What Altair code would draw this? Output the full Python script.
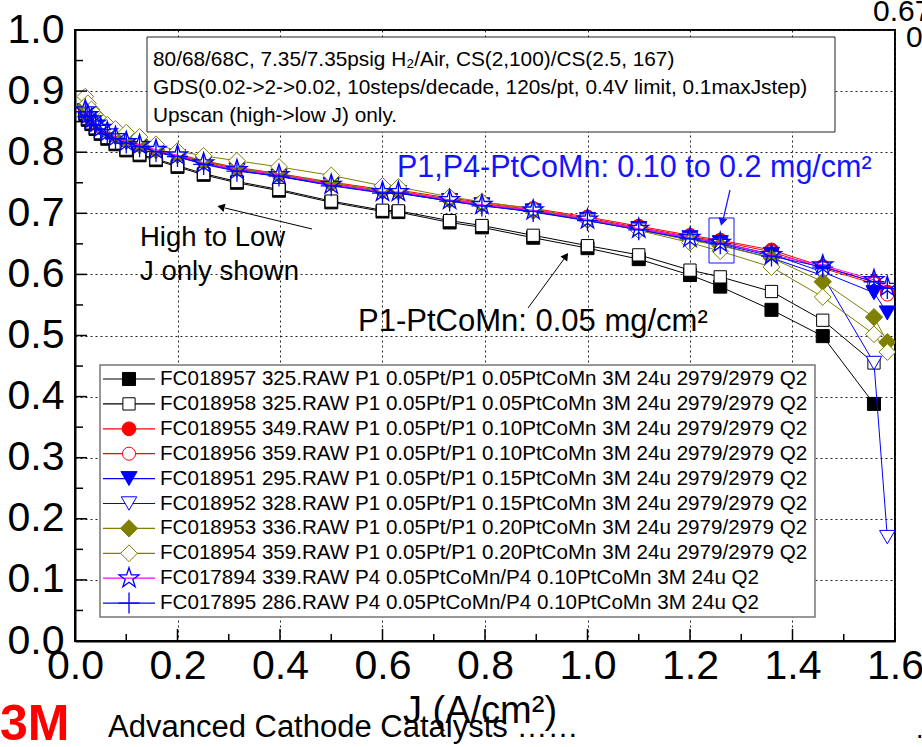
import altair as alt
import pandas as pd

# ---------------- data ----------------
J_VALUES = [0.02, 0.025, 0.032, 0.04, 0.05, 0.063, 0.079, 0.1, 0.126, 0.158, 0.2, 0.251,
            0.316, 0.398, 0.5, 0.6, 0.631, 0.731, 0.794, 0.894, 1.0, 1.1, 1.2, 1.259,
            1.359, 1.459, 1.559, 1.585]

SERIES_NAMES = [
    "FC018957 325.RAW P1 0.05Pt/P1 0.05PtCoMn 3M 24u 2979/2979 Q2",
    "FC018958 325.RAW P1 0.05Pt/P1 0.05PtCoMn 3M 24u 2979/2979 Q2",
    "FC018955 349.RAW P1 0.05Pt/P1 0.10PtCoMn 3M 24u 2979/2979 Q2",
    "FC018956 359.RAW P1 0.05Pt/P1 0.10PtCoMn 3M 24u 2979/2979 Q2",
    "FC018951 295.RAW P1 0.05Pt/P1 0.15PtCoMn 3M 24u 2979/2979 Q2",
    "FC018952 328.RAW P1 0.05Pt/P1 0.15PtCoMn 3M 24u 2979/2979 Q2",
    "FC018953 336.RAW P1 0.05Pt/P1 0.20PtCoMn 3M 24u 2979/2979 Q2",
    "FC018954 359.RAW P1 0.05Pt/P1 0.20PtCoMn 3M 24u 2979/2979 Q2",
    "FC017894 339.RAW P4 0.05PtCoMn/P4 0.10PtCoMn 3M 24u Q2",
    "FC017895 286.RAW P4 0.05PtCoMn/P4 0.10PtCoMn 3M 24u Q2",
]

V_FC018957 = [0.862, 0.853, 0.846, 0.838, 0.830, 0.822, 0.813, 0.803, 0.795, 0.787, 0.776, 0.763,
              0.750, 0.737, 0.718, 0.703, 0.702, 0.685, 0.677, 0.660, 0.643, 0.625, 0.599, 0.580,
              0.542, 0.499, 0.388]
V_FC018958 = [0.864, 0.855, 0.848, 0.840, 0.832, 0.824, 0.815, 0.805, 0.797, 0.789, 0.778, 0.765,
              0.752, 0.739, 0.720, 0.705, 0.704, 0.688, 0.680, 0.664, 0.647, 0.632, 0.607, 0.596,
              0.572, 0.525, 0.455]
V_FC018955 = [0.872, 0.864, 0.857, 0.850, 0.843, 0.836, 0.828, 0.820, 0.813, 0.805, 0.797, 0.786,
              0.775, 0.765, 0.751, 0.739, 0.738, 0.725, 0.718, 0.708, 0.694, 0.679, 0.664, 0.656,
              0.640, 0.613, 0.588, 0.571]
V_FC018956 = [0.870, 0.862, 0.855, 0.848, 0.841, 0.834, 0.826, 0.818, 0.811, 0.803, 0.795, 0.784,
              0.773, 0.763, 0.749, 0.737, 0.736, 0.723, 0.716, 0.706, 0.692, 0.677, 0.662, 0.654,
              0.637, 0.610, 0.585, 0.567]
V_FC018951 = [0.868, 0.860, 0.853, 0.846, 0.839, 0.832, 0.824, 0.816, 0.809, 0.801, 0.793, 0.782,
              0.771, 0.761, 0.747, 0.735, 0.734, 0.721, 0.714, 0.704, 0.690, 0.675, 0.660, 0.652,
              0.633, 0.604, 0.570, 0.537]
V_FC018952 = [0.867, 0.859, 0.852, 0.845, 0.838, 0.831, 0.823, 0.815, 0.808, 0.800, 0.792, 0.781,
              0.770, 0.760, 0.746, 0.734, 0.733, 0.720, 0.713, 0.702, 0.688, 0.673, 0.657, 0.648,
              0.627, 0.598, 0.455, 0.170]
V_FC018953 = [0.875, 0.866, 0.858, 0.851, 0.843, 0.836, 0.828, 0.820, 0.812, 0.804, 0.796, 0.785,
              0.774, 0.764, 0.750, 0.737, 0.736, 0.722, 0.715, 0.704, 0.689, 0.673, 0.656, 0.647,
              0.627, 0.588, 0.530, 0.489]
V_FC018954 = [0.891, 0.880, 0.870, 0.861, 0.852, 0.845, 0.838, 0.832, 0.825, 0.813, 0.802, 0.794,
              0.786, 0.776, 0.762, 0.745, 0.743, 0.727, 0.719, 0.707, 0.690, 0.672, 0.652, 0.638,
              0.612, 0.563, 0.502, 0.473]
V_FC017894 = [0.869, 0.861, 0.854, 0.847, 0.840, 0.833, 0.825, 0.817, 0.812, 0.804, 0.795, 0.782,
              0.771, 0.763, 0.747, 0.735, 0.735, 0.722, 0.714, 0.705, 0.690, 0.675, 0.660, 0.652,
              0.632, 0.615, 0.591, 0.580]
V_FC017895 = [0.866, 0.858, 0.851, 0.844, 0.837, 0.830, 0.822, 0.815, 0.809, 0.801, 0.793, 0.780,
              0.769, 0.761, 0.745, 0.733, 0.733, 0.720, 0.712, 0.703, 0.688, 0.673, 0.658, 0.650,
              0.630, 0.612, 0.588, 0.577]

SERIES_VALUES = [V_FC018957, V_FC018958, V_FC018955, V_FC018956, V_FC018951,
                 V_FC018952, V_FC018953, V_FC018954, V_FC017894, V_FC017895]

X_TICKS = [0.0, 0.2, 0.4, 0.6, 0.8, 1.0, 1.2, 1.4, 1.6]
X_MINOR = [0.1, 0.3, 0.5, 0.7, 0.9, 1.1, 1.3, 1.5]
Y_TICKS = [0.0, 0.1, 0.2, 0.3, 0.4, 0.5, 0.6, 0.7, 0.8, 0.9, 1.0]
Y_MINOR = [0.05, 0.15, 0.25, 0.35, 0.45, 0.55, 0.65, 0.75, 0.85, 0.95]

BOX_LINES = [
    "80/68/68C, 7.35/7.35psig H\u2082/Air, CS(2,100)/CS(2.5, 167)",
    "GDS(0.02->2->0.02, 10steps/decade, 120s/pt, 0.4V limit, 0.1maxJstep)",
    "Upscan (high->low J) only.",
]

# ---------------- styles ----------------
PLUS = "M-1,0L1,0M0,-1L0,1"
STAR = ("M0,-1L0.225,-0.309L0.951,-0.309L0.363,0.118L0.588,0.809L0,0.382"
        "L-0.588,0.809L-0.363,0.118L-0.951,-0.309L-0.225,-0.309Z")
STYLES = [
    dict(line="black", shape="square", fill="black", stroke="black", size=170, sw=1),
    dict(line="black", shape="square", fill="white", stroke="black", size=150, sw=1),
    dict(line="red", shape="circle", fill="red", stroke="red", size=190, sw=1),
    dict(line="red", shape="circle", fill="white", stroke="red", size=170, sw=1),
    dict(line="#0000ff", shape="triangle-down", fill="#0000ff", stroke="#0000ff", size=260, sw=1),
    dict(line="#0000ff", shape="triangle-down", fill="white", stroke="#0000ff", size=240, sw=1),
    dict(line="#808000", shape="diamond", fill="#808000", stroke="#808000", size=300, sw=1),
    dict(line="#808000", shape="diamond", fill="white", stroke="#808000", size=280, sw=1),
    dict(line="#ff00ff", shape=STAR, fill="transparent", stroke="#0000ff", size=440, sw=1.3),
    dict(line="#0000ff", shape=PLUS, fill="transparent", stroke="#0000ff", size=440, sw=1.3),
]

W, H = 820, 611
FONT = "Liberation Sans"

X_ENC = alt.X("J:Q", scale=alt.Scale(domain=[0, 1.6], nice=False, zero=False),
              axis=alt.Axis(values=X_TICKS, format=".1f", title=None, ticks=False,
                            labelFontSize=41, labelFont=FONT, labelColor="black",
                            labelPadding=5, labelFlush=False,
                            domainColor="black", domainWidth=2,
                            grid=True, gridColor="#222222", gridDash=[2, 3], gridWidth=1))
Y_ENC = alt.Y("V:Q", scale=alt.Scale(domain=[0, 1], nice=False, zero=False),
              axis=alt.Axis(values=Y_TICKS, format=".1f", title=None, ticks=False,
                            labelFontSize=41, labelFont=FONT, labelColor="black",
                            labelPadding=11, labelFlush=False,
                            domainColor="black", domainWidth=2,
                            grid=True, gridColor="#222222", gridDash=[2, 3], gridWidth=1))

layers = []

# data layers
for name, vals, st in zip(SERIES_NAMES, SERIES_VALUES, STYLES):
    df = pd.DataFrame({"J": J_VALUES[:len(vals)], "V": vals, "series": name})
    base = alt.Chart(df)
    layers.append(base.mark_line(color=st["line"], strokeWidth=1, clip=True).encode(x=X_ENC, y=Y_ENC))
    layers.append(base.mark_point(shape=st["shape"], filled=True, fill=st["fill"], stroke=st["stroke"],
                                  strokeWidth=st["sw"], size=st["size"], opacity=1, clip=True)
                  .encode(x=X_ENC, y=Y_ENC))

# inward ticks
def xticks(vals, length):
    return alt.Chart(pd.DataFrame({"J": vals})).mark_rule(color="black", strokeWidth=1.5).encode(
        x=X_ENC, y=alt.value(H), y2=alt.value(H - length))

def yticks(vals, length):
    return alt.Chart(pd.DataFrame({"V": vals})).mark_rule(color="black", strokeWidth=1.5).encode(
        y=Y_ENC, x=alt.value(0), x2=alt.value(length))

layers += [xticks(X_TICKS, 12), xticks(X_MINOR, 7), yticks(Y_TICKS, 12), yticks(Y_MINOR, 8)]

one = pd.DataFrame({"k": [0]})

def text_layer(txt, x, y, size, color="black", align="left", weight="normal", baseline="middle"):
    return alt.Chart(pd.DataFrame({"t": [txt]})).mark_text(
        align=align, baseline=baseline, fontSize=size, font=FONT, color=color, fontWeight=weight
    ).encode(text="t:N", x=alt.value(x), y=alt.value(y))

def box(x1, y1, x2, y2, stroke, fill, sw=1):
    return alt.Chart(one).mark_rect(fill=fill, stroke=stroke, strokeWidth=sw).encode(
        x=alt.value(x1), x2=alt.value(x2), y=alt.value(y1), y2=alt.value(y2))

def seg(x1, y1, x2, y2, color, sw=1):
    return alt.Chart(one).mark_rule(color=color, strokeWidth=sw).encode(
        x=alt.value(x1), x2=alt.value(x2), y=alt.value(y1), y2=alt.value(y2))

def head(x, y, shape, angle, color, size=70):
    return alt.Chart(one).mark_point(shape=shape, angle=angle, filled=True, color=color,
                                     size=size, opacity=1).encode(x=alt.value(x), y=alt.value(y))

# top info box
layers.append(box(72, 7, 760, 102, "#222222", "white", 1))
for i, line in enumerate(BOX_LINES):
    layers.append(text_layer(line, 78, 30 + i * 28, 20.8))

# annotations
BLUE = "#1414ff"
layers.append(text_layer("P1,P4-PtCoMn: 0.10 to 0.2 mg/cm\u00b2", 322, 138, 30.5, color=BLUE))
layers.append(seg(655, 160, 648, 190, BLUE, 1.2))
layers.append(head(647, 192, "triangle-down", 14, BLUE, 80))
layers.append(box(634, 188, 659, 233, BLUE, "transparent", 1))

layers.append(text_layer("P1-PtCoMn: 0.05 mg/cm\u00b2", 283, 292, 31))
layers.append(seg(453, 278, 489, 229, "black", 1))
layers.append(head(491, 226, "triangle-up", 36, "black", 70))

layers.append(text_layer("High to Low", 65, 208, 27.5))
layers.append(text_layer("J only shown", 65, 242, 27.5))
layers.append(seg(237, 199, 150, 178, "black", 1))
layers.append(head(146, 177, "triangle-left", 14, "black", 70))

# legend
layers.append(box(25, 335, 740, 587, "#777777", "white", 1.5))
for i, (name, st) in enumerate(zip(SERIES_NAMES, STYLES)):
    yy = 349 + 24.9 * i
    layers.append(seg(28, yy, 80, yy, st["line"], 1.2))
    layers.append(alt.Chart(one).mark_point(shape=st["shape"], filled=True, fill=st["fill"],
                                            stroke=st["stroke"], strokeWidth=st["sw"],
                                            size=st["size"], opacity=1)
                  .encode(x=alt.value(54), y=alt.value(yy)))
    layers.append(text_layer(name, 85, yy, 20.6))

# outside texts
layers.append(text_layer("J (A/cm\u00b2)", 405, 682, 38, align="center"))
layers.append(text_layer("3M", -75, 695, 50, color="#ff0000", weight="bold"))
layers.append(text_layer("Advanced Cathode Catalysts \u2026\u2026", 33, 698, 31))
layers.append(text_layer(".", 841, 700, 27))
layers.append(text_layer("0.67", 798, -18, 30))
layers.append(text_layer("0", 831, 8, 30))

chart = alt.layer(*layers).properties(
    width=W, height=H,
    padding={"left": 75, "top": 30, "right": 27, "bottom": 106},
    autosize=alt.AutoSizeParams(type="none"),
    background="white",
).configure_view(stroke="black", strokeWidth=2)

chart.save("out.html", embed_options={"renderer": "svg", "actions": False})
